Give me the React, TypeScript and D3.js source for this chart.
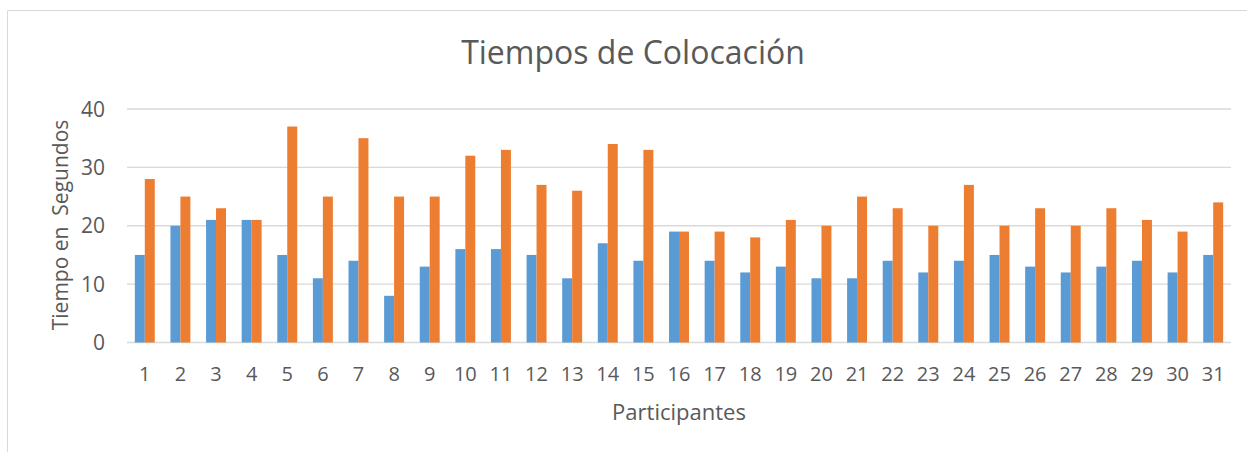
import React from "react";
import * as d3 from "d3";

const participants: string[] = Array.from({ length: 31 }, (_, i) => String(i + 1));
const seriesA: number[] = [15, 20, 21, 21, 15, 11, 14, 8, 13, 16, 16, 15, 11, 17, 14, 19, 14, 12, 13, 11, 11, 14, 12, 14, 15, 13, 12, 13, 14, 12, 15];
const seriesB: number[] = [28, 25, 23, 21, 37, 25, 35, 25, 25, 32, 33, 27, 26, 34, 33, 19, 19, 18, 21, 20, 25, 23, 20, 27, 20, 23, 20, 23, 21, 19, 24];
const yTicks: number[] = [0, 10, 20, 30, 40];
const seriesColors: string[] = ["#5B9BD5", "#ED7D31"];

const W = 1247;
const H = 452;
const FONT = "'Open Sans', 'DejaVu Sans', sans-serif";
const TEXT = "#595959";

export default function App() {
  const left = 127;
  const right = 1231;
  const top = 109;
  const bottom = 342.5;

  const x = d3.scaleBand<string>().domain(participants).range([left, right]).paddingInner(0.44).paddingOuter(0.22);
  const inner = d3.scaleBand<number>().domain([0, 1]).range([0, x.bandwidth()]);
  const y = d3.scaleLinear().domain([0, 40]).range([bottom, top]);
  const series = [seriesA, seriesB];

  return (
    <svg width={W} height={H} style={{ position: "absolute", left: 0, top: 0, background: "#fff" }}>
      <rect x={0} y={0} width={W} height={H} fill="#fff" />
      <path d={`M7.5,${H}V10.5H${W}`} fill="none" stroke="#D9D9D9" strokeWidth={1} />
      <text x={633} y={64} textAnchor="middle" fontFamily={FONT} fontSize={32} fill={TEXT}>
        Tiempos de Colocación
      </text>
      {yTicks.map((t) => (
        <g key={t}>
          <line x1={left} x2={right} y1={y(t)} y2={y(t)} stroke="#D9D9D9" strokeWidth={1.3} />
          <text x={105} y={y(t)} dy="0.36em" textAnchor="end" fontFamily={FONT} fontSize={21} fill={TEXT}>
            {t}
          </text>
        </g>
      ))}
      {participants.map((p, i) => (
        <g key={p}>
          {series.map((s, k) => (
            <rect
              key={k}
              x={(x(p) ?? 0) + (inner(k) ?? 0)}
              y={y(s[i])}
              width={inner.bandwidth()}
              height={bottom - y(s[i])}
              fill={seriesColors[k]}
            />
          ))}
          <text x={(x(p) ?? 0) + x.bandwidth() / 2} y={381} textAnchor="middle" fontFamily={FONT} fontSize={20} fill={TEXT}>
            {p}
          </text>
        </g>
      ))}
      <text x={679} y={420} textAnchor="middle" fontFamily={FONT} fontSize={22} fill={TEXT}>
        Participantes
      </text>
      <text
        transform={`translate(68,225) rotate(-90)`}
        textAnchor="middle"
        fontFamily={FONT}
        fontSize={21}
        fill={TEXT}
        style={{ whiteSpace: "pre" }}
      >
        {"Tiempo en  Segundos"}
      </text>
    </svg>
  );
}
